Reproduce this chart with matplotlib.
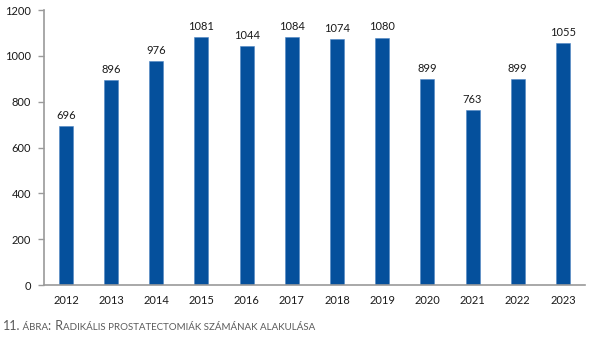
import matplotlib.pyplot as plt
from matplotlib import rcParams
from matplotlib.transforms import offset_copy

rcParams['font.family'] = ['Lato', 'DejaVu Sans']

years = ['2012', '2013', '2014', '2015', '2016', '2017', '2018', '2019', '2020', '2021', '2022', '2023']
counts = [696, 896, 976, 1081, 1044, 1084, 1074, 1080, 899, 763, 899, 1055]
y_ticks = [0, 200, 400, 600, 800, 1000, 1200]

bar_color = '#05509c'
axis_color = '#9a9a9a'
text_color = '#1a1a1a'

fig = plt.figure(figsize=(6, 3.46), dpi=100)
ax = fig.add_axes([0.073, 0.176, 0.902, 0.795])

x = range(len(years))
bars = ax.bar(x, counts, width=0.31, color=bar_color, edgecolor='#4f86c4', linewidth=0.4)
for xi, v in zip(x, counts):
    ax.text(xi, v + 22, str(v), ha='center', va='bottom', fontsize=8, color=text_color)

ax.set_xlim(-0.49, len(years) - 0.51)
ax.set_ylim(0, 1200)
ax.set_yticks(y_ticks)
ax.set_xticks(list(x))
ax.set_xticklabels(years)
ax.tick_params(axis='x', length=0, pad=7, labelsize=8, labelcolor=text_color)
ax.tick_params(axis='y', length=4, width=1, color=axis_color, pad=5, labelsize=8, labelcolor=text_color)
for side in ['top', 'right']:
    ax.spines[side].set_visible(False)
for side in ['left', 'bottom']:
    ax.spines[side].set_color(axis_color)
    ax.spines[side].set_linewidth(1.2)

# felirat kiskapitálissal: nagy és kis méretű nagybetűk egymás után
caption = [('11.', 9, 0.0), (' ÁBRA', 7, -1.0), (':', 9, 1.0), (' R', 9, 0.0),
           ('ADIKÁLIS PROSTATECTOMIÁK SZÁMÁNAK ALAKULÁSA', 7, 0.0)]
cap_color = '#5a5a5a'
fig.canvas.draw()
renderer = fig.canvas.get_renderer()
tr = fig.transFigure
x_px = 0
for part, size, gap in caption:
    t = fig.text(3 / 600, 1 - 330 / 346, part, fontsize=size, color=cap_color,
                 transform=offset_copy(tr, fig=fig, x=x_px, y=0, units='dots'),
                 ha='left', va='baseline')
    x_px += t.get_window_extent(renderer).width + gap

fig.savefig('out.png', dpi=100)
